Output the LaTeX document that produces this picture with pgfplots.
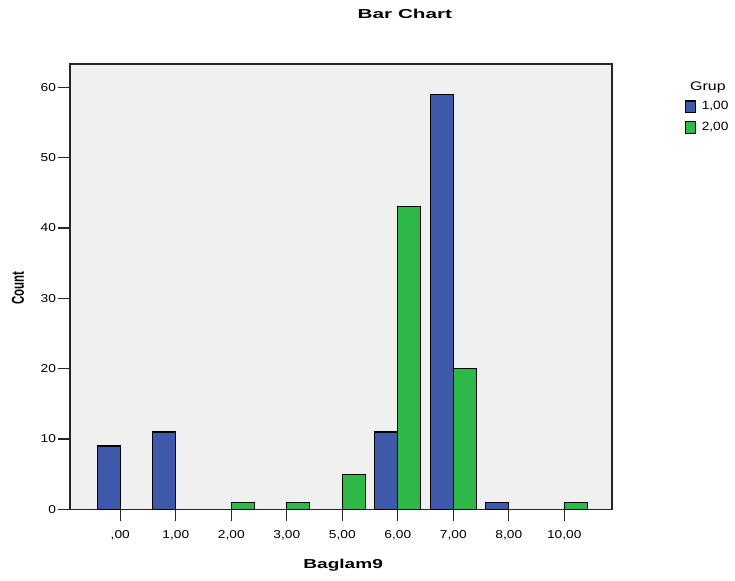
\documentclass[border=0pt]{standalone}
\usepackage{fontspec}
\setmainfont{Liberation Sans}
\usepackage{graphicx}
\usepackage{pgfplots}
\pgfplotsset{compat=1.18}

\definecolor{spssblue}{RGB}{62,88,170}
\definecolor{spssgreen}{RGB}{46,184,72}
\definecolor{spssbg}{RGB}{240,240,240}

% SPSS export is stretched sideways, so text is widened to match
\newcommand{\tl}[1]{\scalebox{1.2}[1]{\fontsize{11.5}{13}\selectfont #1}}

\begin{document}
\begin{tikzpicture}
\path[use as bounding box] (0,0) rectangle (735bp,581bp);
\begin{axis}[
    at={(70bp,71.7bp)}, anchor=south west,
    scale only axis,
    width=542bp, height=445.3bp,
    ybar=0pt, bar width=0.414,
    xmin=-0.906, xmax=8.86,
    ymin=0, ymax=63.3,
    axis background/.style={fill=spssbg},
    axis line style={line width=1.2bp, black!85},
    tick style={line width=1.2bp, black!85},
    tick align=outside,
    major tick length=11.5bp,
    xtick pos=bottom, ytick pos=left,
    xtick={0,...,8},
    xticklabels={\tl{,00},\tl{1,00},\tl{2,00},\tl{3,00},\tl{5,00},\tl{6,00},\tl{7,00},\tl{8,00},\tl{10,00}},
    ytick={0,10,...,60},
    yticklabels={\tl{0},\tl{10},\tl{20},\tl{30},\tl{40},\tl{50},\tl{60}},
    xticklabel style={yshift=-6bp},
    yticklabel style={xshift=1bp},
    xlabel={\scalebox{1.47}[1]{\fontsize{13}{15}\selectfont\bfseries Baglam9}},
    xlabel style={at={(axis description cs:0.504,-0.125)}, anchor=center},
    ylabel={\scalebox{1}[1.5]{\fontsize{11.5}{13}\selectfont\bfseries Count}},
    ylabel style={at={(axis description cs:-0.096,0.497)}, anchor=center},
    title={\scalebox{1.6}[1]{\fontsize{13}{15}\selectfont\bfseries Bar Chart}},
    title style={at={(axis description cs:0.618,1.1)}, anchor=center},
    legend style={at={(axis description cs:1.128,0.925)}, anchor=north west,
        draw=none, fill=none, row sep=7bp,
        /tikz/every odd column/.append style={column sep=4bp}},
    legend image code/.code={
        \draw[#1, line width=1.2bp] (0bp,-6bp) rectangle (10bp,5.5bp);
    },
    clip=false,
]
\addplot[draw=black, line width=1.2bp, fill=spssblue]
    coordinates {(0,9) (1,11) (5,11) (6,59) (7,1)};
\addplot[draw=black, line width=1.2bp, fill=spssgreen]
    coordinates {(2,1) (3,1) (4,5) (5,43) (6,20) (8,1)};
\legend{\scalebox{1.15}[1]{\fontsize{12}{14}\selectfont 1,00},
        \scalebox{1.15}[1]{\fontsize{12}{14}\selectfont 2,00}}
\node[anchor=center] at (axis description cs:1.177,0.948)
    {\scalebox{1.28}[1]{\fontsize{12.5}{14}\selectfont Grup}};
\end{axis}
\end{tikzpicture}
\end{document}
